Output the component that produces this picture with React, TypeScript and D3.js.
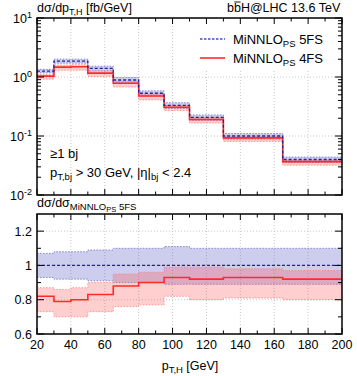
import React from 'react';
import * as d3 from 'd3';

// bin edges in pT,H [GeV]
const edges = [20, 30, 40, 50, 65, 80, 95, 110, 130, 165, 200];
// MiNNLO_PS 5FS central values [fb/GeV]
const val5FS = [1.26, 1.86, 1.86, 1.4, 0.89, 0.53, 0.33, 0.207, 0.1, 0.04];
// scale bands of 5FS relative to 5FS central
const band5Lo = [0.93, 0.92, 0.92, 0.91, 0.9, 0.9, 0.89, 0.89, 0.89, 0.89];
const band5Hi = [1.07, 1.08, 1.08, 1.09, 1.1, 1.1, 1.11, 1.1, 1.1, 1.1];
// MiNNLO_PS 4FS relative to 5FS central
const ratio4FS = [0.82, 0.79, 0.8, 0.83, 0.88, 0.9, 0.93, 0.92, 0.93, 0.92];
const band4Lo = [0.73, 0.7, 0.7, 0.73, 0.76, 0.77, 0.82, 0.8, 0.81, 0.8];
const band4Hi = [0.87, 0.86, 0.87, 0.9, 0.95, 0.96, 0.99, 0.99, 0.98, 0.97];

const xTicks = [20, 40, 60, 80, 100, 120, 140, 160, 180, 200];
const logTicks = [1, 0, -1, -2];
const ratioTicks = [0.6, 0.8, 1, 1.2];

const font = 'Liberation Sans, Arial, Helvetica, sans-serif';
const BLUE = '#24249a';
const RED = '#ff2a2a';

type Pt = { x: number; lo: number; hi: number; c: number };

// repeat the last bin so step curves reach the right edge
const stepData = (c: number[], lo: number[], hi: number[]): Pt[] =>
  edges.map((e, i) => {
    const j = Math.min(i, c.length - 1);
    return { x: e, c: c[j], lo: lo[j], hi: hi[j] };
  });

const App = () => {
  const x = d3.scaleLinear().domain([20, 200]).range([37, 342]);
  const yTop = d3.scaleLog().domain([0.01, 10]).range([195, 18]);
  const yBot = d3.scaleLinear().domain([0.6, 1.3]).range([334, 214]);

  const top5 = stepData(
    val5FS,
    val5FS.map((v, i) => v * band5Lo[i]),
    val5FS.map((v, i) => v * band5Hi[i])
  );
  const top4 = stepData(
    val5FS.map((v, i) => v * ratio4FS[i]),
    val5FS.map((v, i) => v * band4Lo[i]),
    val5FS.map((v, i) => v * band4Hi[i])
  );
  const bot5 = stepData(val5FS.map(() => 1), band5Lo, band5Hi);
  const bot4 = stepData(ratio4FS, band4Lo, band4Hi);

  const mk = (y: any) => ({
    area: d3.area<Pt>().x((d) => x(d.x)).y0((d) => y(d.lo)).y1((d) => y(d.hi)).curve(d3.curveStepAfter),
    c: d3.line<Pt>().x((d) => x(d.x)).y((d) => y(d.c)).curve(d3.curveStepAfter),
    lo: d3.line<Pt>().x((d) => x(d.x)).y((d) => y(d.lo)).curve(d3.curveStepAfter),
    hi: d3.line<Pt>().x((d) => x(d.x)).y((d) => y(d.hi)).curve(d3.curveStepAfter),
  });
  const gT = mk(yTop);
  const gB = mk(yBot);

  const drawSet = (g: any, d5: Pt[], d4: Pt[]) => (
    <g>
      <path d={g.area(d5)} fill="#6464c8" fillOpacity={0.32} />
      <path d={g.lo(d5)} fill="none" stroke="#7070c8" strokeWidth={0.8} strokeDasharray="1.5,1.5" />
      <path d={g.hi(d5)} fill="none" stroke="#7070c8" strokeWidth={0.8} strokeDasharray="1.5,1.5" />
      <path d={g.area(d4)} fill="#ff5050" fillOpacity={0.28} />
      <path d={g.lo(d4)} fill="none" stroke="#ff8080" strokeWidth={0.8} strokeDasharray="1.5,1.5" />
      <path d={g.hi(d4)} fill="none" stroke="#ff8080" strokeWidth={0.8} strokeDasharray="1.5,1.5" />
      <path d={g.c(d4)} fill="none" stroke={RED} strokeWidth={1.6} />
      <path d={g.c(d5)} fill="none" stroke={BLUE} strokeWidth={1.3} strokeDasharray="3,2" />
    </g>
  );

  const minorX = d3.range(30, 200, 20);
  const minorLog: number[] = [];
  [-2, -1, 0].forEach((p) => {
    for (let k = 2; k <= 9; k++) minorLog.push(k * Math.pow(10, p));
  });
  const minorRatio = [0.7, 0.9, 1.1];

  const xTickMarks = (yb: number, yt: number) => (
    <g stroke="#000" strokeWidth={1}>
      {xTicks.map((t) => (
        <g key={'M' + t}>
          <line x1={x(t)} x2={x(t)} y1={yb} y2={yb - 6} />
          <line x1={x(t)} x2={x(t)} y1={yt} y2={yt + 6} />
        </g>
      ))}
      {minorX.map((t) => (
        <g key={'m' + t}>
          <line x1={x(t)} x2={x(t)} y1={yb} y2={yb - 3.5} />
          <line x1={x(t)} x2={x(t)} y1={yt} y2={yt + 3.5} />
        </g>
      ))}
    </g>
  );

  const gridX = (yb: number, yt: number) =>
    xTicks.slice(1, -1).map((t) => (
      <line key={'g' + t} x1={x(t)} x2={x(t)} y1={yb} y2={yt} stroke="#b8b8b8" strokeWidth={0.8} strokeDasharray="1,2" />
    ));

  return (
    <svg width={357} height={376} style={{ position: 'absolute', left: 0, top: 0 }} fontFamily={font}>
      <rect width={357} height={376} fill="#fff" />
      <defs>
        <clipPath id="cTop">
          <rect x={37} y={18} width={305} height={177} />
        </clipPath>
        <clipPath id="cBot">
          <rect x={37} y={214} width={305} height={120} />
        </clipPath>
      </defs>

      {/* top panel */}
      {gridX(195, 18)}
      {[0, -1].map((p) => (
        <line key={'gy' + p} x1={37} x2={342} y1={yTop(Math.pow(10, p))} y2={yTop(Math.pow(10, p))} stroke="#b8b8b8" strokeWidth={0.8} strokeDasharray="1,2" />
      ))}
      <rect x={195} y={19} width={146} height={51} fill="#fff" />
      <g clipPath="url(#cTop)">{drawSet(gT, top5, top4)}</g>
      {xTickMarks(195, 18)}
      <g stroke="#000" strokeWidth={1}>
        {logTicks.map((p) => (
          <g key={'ly' + p}>
            <line x1={37} x2={44} y1={yTop(Math.pow(10, p))} y2={yTop(Math.pow(10, p))} />
            <line x1={342} x2={335} y1={yTop(Math.pow(10, p))} y2={yTop(Math.pow(10, p))} />
          </g>
        ))}
        {minorLog.map((v) => (
          <g key={'lm' + v}>
            <line x1={37} x2={41} y1={yTop(v)} y2={yTop(v)} />
            <line x1={342} x2={338} y1={yTop(v)} y2={yTop(v)} />
          </g>
        ))}
      </g>
      <rect x={37} y={18} width={305} height={177} fill="none" stroke="#000" strokeWidth={1.5} />
      {logTicks.map((p) => (
        <text key={'lt' + p} x={32} y={yTop(Math.pow(10, p)) + 5} textAnchor="end" fontSize={12.5}>
          10<tspan dy={-5} fontSize={9}>{p}</tspan>
        </text>
      ))}

      {/* legend */}
      <line x1={200} x2={225} y1={39} y2={39} stroke="#4a4ac8" strokeWidth={1.3} strokeDasharray="2.5,1.5" />
      <text x={233} y={44} fontSize={13}>
        MiNNLO<tspan dy={3} fontSize={9.5}>PS</tspan>
        <tspan dy={-3}> 5FS</tspan>
      </text>
      <line x1={200} x2={225} y1={58} y2={58} stroke={RED} strokeWidth={1.6} />
      <text x={233} y={63} fontSize={13}>
        MiNNLO<tspan dy={3} fontSize={9.5}>PS</tspan>
        <tspan dy={-3}> 4FS</tspan>
      </text>

      {/* titles */}
      <text x={37} y={12} fontSize={12.5}>
        dσ/dp<tspan dy={3} fontSize={9}>T,H</tspan>
        <tspan dy={-3}> [fb/GeV]</tspan>
      </text>
      <text x={227} y={12} fontSize={12.5}>
        bbH@LHC 13.6 TeV
      </text>
      <line x1={234.3} x2={240.6} y1={2} y2={2} stroke="#000" strokeWidth={0.9} />
      <text x={50} y={158} fontSize={13}>≥1 bj</text>
      <text x={50} y={177} fontSize={13}>
        p<tspan dy={3} fontSize={9.5}>T,bj</tspan>
        <tspan dy={-3}> &gt; 30 GeV, |η|</tspan>
        <tspan dy={3} fontSize={9.5}>bj</tspan>
        <tspan dy={-3}> &lt; 2.4</tspan>
      </text>

      {/* ratio panel */}
      <text x={37} y={207} fontSize={12.5}>
        dσ/dσ<tspan dy={3} fontSize={9.5}>MiNNLO</tspan>
        <tspan dy={2} fontSize={7.5}>PS</tspan>
        <tspan dy={-2} fontSize={9.5}> 5FS</tspan>
      </text>
      {gridX(334, 214)}
      {[0.8, 1, 1.2].map((t) => (
        <line key={'gr' + t} x1={37} x2={342} y1={yBot(t)} y2={yBot(t)} stroke="#b8b8b8" strokeWidth={0.8} strokeDasharray="1,2" />
      ))}
      <g clipPath="url(#cBot)">{drawSet(gB, bot5, bot4)}</g>
      {xTickMarks(334, 214)}
      <g stroke="#000" strokeWidth={1}>
        {ratioTicks.map((t) => (
          <g key={'rt' + t}>
            <line x1={37} x2={44} y1={yBot(t)} y2={yBot(t)} />
            <line x1={342} x2={335} y1={yBot(t)} y2={yBot(t)} />
          </g>
        ))}
        {minorRatio.map((t) => (
          <g key={'rm' + t}>
            <line x1={37} x2={41} y1={yBot(t)} y2={yBot(t)} />
            <line x1={342} x2={338} y1={yBot(t)} y2={yBot(t)} />
          </g>
        ))}
      </g>
      <rect x={37} y={214} width={305} height={120} fill="none" stroke="#000" strokeWidth={1.5} />
      {ratioTicks.map((t) => (
        <text key={'rl' + t} x={32} y={yBot(t) + 4.5} textAnchor="end" fontSize={12.5}>
          {d3.format('~g')(t)}
        </text>
      ))}
      {xTicks.map((t) => (
        <text key={'xl' + t} x={x(t)} y={349} textAnchor="middle" fontSize={12.5}>
          {t}
        </text>
      ))}
      <text x={190} y={370} textAnchor="middle" fontSize={12.5}>
        p<tspan dy={3} fontSize={9.5}>T,H</tspan>
        <tspan dy={-3}> [GeV]</tspan>
      </text>
    </svg>
  );
};

export default App;
